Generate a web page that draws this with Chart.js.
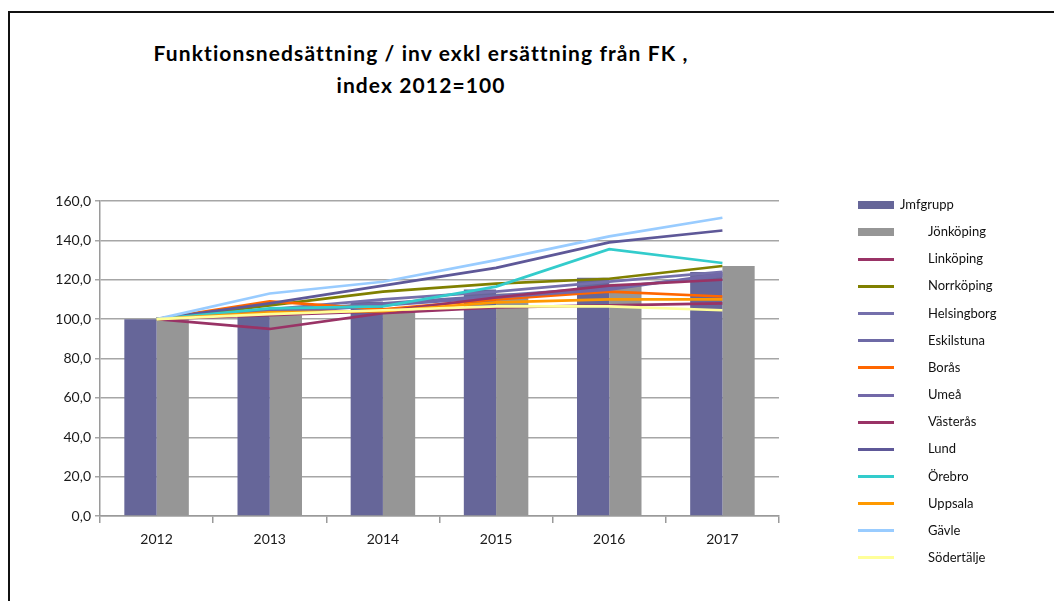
<!DOCTYPE html>
<html>
<head>
<meta charset="utf-8">
<script src="https://cdn.jsdelivr.net/npm/chart.js@4/dist/chart.umd.min.js"></script>
<style>
  body { margin: 0; background: #fff; }
  #wrap { position: relative; width: 1054px; height: 601px; overflow: hidden; font-family: Lato, "Open Sans", sans-serif; }
  #frame { position: absolute; left: 8px; top: 11px; width: 1100px; height: 700px; border: 2px solid #111; box-sizing: border-box; }
  #title { position: absolute; left: 121px; top: 37px; width: 600px; text-align: center; font-weight: bold; font-size: 21px; letter-spacing: 1.1px; line-height: 32px; color: #000; }
  #legend { position: absolute; left: 0; top: 0; }
  .item { position: absolute; font-size: 13px; color: #111; }
  .sw { position: absolute; }
  canvas { position: absolute; left: 0; top: 0; }
</style>
</head>
<body>
<div id="wrap">
  <div id="frame"></div>
  <div id="title">Funktionsnedsättning / inv exkl ersättning från FK ,<br>index 2012=100</div>
  <canvas id="chart" width="1054" height="601"></canvas>
  <div id="legend"></div>
</div>
<script>
// kategorier
const years = ['2012', '2013', '2014', '2015', '2016', '2017'];

// staplar
const jmfgrupp  = [100, 102, 109, 115, 121, 124];
const jonkoping = [100, 102, 104, 113, 118, 127];

// linjer
const linkoping   = [100, 95, 103, 106, 107, 108];
const norrkoping  = [100, 107, 114, 118, 120.5, 127];
const helsingborg = [100, 105, 110, 114, 119, 124];
const eskilstuna  = [100, 104, 108, 112, 116, 122];
const boras       = [100, 109, 105, 110, 114, 111.5];
const umea        = [100, 103, 107, 111, 115, 123];
const vasteras    = [100, 102, 104, 111, 117, 120];
const lund        = [100, 108, 117, 126, 139, 145];
const orebro      = [100, 105.5, 106.5, 116.5, 135.5, 128.5];
const uppsala     = [100, 103.5, 104, 108.5, 110, 110];
const gavle       = [100, 113, 119, 130, 142, 151.5];
const sodertalje  = [100, 102.5, 104.5, 106.5, 106.5, 104.5];

const yTicks = [0, 20, 40, 60, 80, 100, 120, 140, 160];

const barSeries = [
  { label: 'Jmfgrupp', data: jmfgrupp, color: '#666699' },
  { label: 'Jönköping', data: jonkoping, color: '#969696' }
];
const lineSeries = [
  { label: 'Linköping', data: linkoping, color: '#993366' },
  { label: 'Norrköping', data: norrkoping, color: '#808000' },
  { label: 'Helsingborg', data: helsingborg, color: '#7570AC' },
  { label: 'Eskilstuna', data: eskilstuna, color: '#6E6AA6' },
  { label: 'Borås', data: boras, color: '#FF6600' },
  { label: 'Umeå', data: umea, color: '#7268A8' },
  { label: 'Västerås', data: vasteras, color: '#993366' },
  { label: 'Lund', data: lund, color: '#5E5898' },
  { label: 'Örebro', data: orebro, color: '#33CCCC' },
  { label: 'Uppsala', data: uppsala, color: '#FF9900' },
  { label: 'Gävle', data: gavle, color: '#99CCFF' },
  { label: 'Södertälje', data: sodertalje, color: '#FFFF99' }
];

const datasets = [];
barSeries.forEach(s => {
  datasets.push({
    type: 'bar', label: s.label, data: s.data,
    backgroundColor: s.color, borderWidth: 0,
    barPercentage: 1, categoryPercentage: 0.57, order: 100
  });
});
lineSeries.forEach((s, i) => {
  datasets.push({
    type: 'line', label: s.label, data: s.data,
    borderColor: s.color, backgroundColor: s.color,
    borderWidth: 2.7, pointRadius: 0, tension: 0, order: 50 - i
  });
});

const tickFont = { family: 'Lato', size: 14 };
new Chart(document.getElementById('chart'), {
  data: { labels: years, datasets: datasets },
  options: {
    responsive: false,
    animation: false,
    layout: { padding: { left: 0, top: 201, right: 275, bottom: 0 } },
    plugins: { legend: { display: false }, tooltip: { enabled: false } },
    scales: {
      x: {
        offset: true,
        grid: { offset: true, drawOnChartArea: false, drawTicks: true, tickLength: 7, color: '#9a9a9a', lineWidth: 1.5 },
        border: { color: '#9a9a9a', width: 1.5 },
        ticks: { font: tickFont, color: '#1a1a1a', padding: 8 },
        afterFit: s => { s.height = 85; }
      },
      y: {
        min: 0, max: 160,
        afterBuildTicks: s => { s.ticks = yTicks.map(v => ({ value: v })); },
        grid: { color: '#a6a6a6', lineWidth: 1.5, tickLength: 5 },
        border: { color: '#9a9a9a', width: 1.5 },
        ticks: { font: tickFont, color: '#1a1a1a', padding: 4, callback: v => v.toFixed(1).replace('.', ',') },
        afterFit: s => { s.width = 100; }
      }
    }
  }
});

// legend som i originalet
const legend = document.getElementById('legend');
const all = barSeries.map(s => ({ ...s, bar: true })).concat(lineSeries);
all.forEach((s, i) => {
  const y = 205 + i * 27.15;
  const sw = document.createElement('div');
  sw.className = 'sw';
  sw.style.left = '858px';
  sw.style.width = '36px';
  sw.style.background = s.color;
  if (s.bar) { sw.style.top = (y - 4) + 'px'; sw.style.height = '8px'; }
  else { sw.style.top = (y - 1.5) + 'px'; sw.style.height = '3px'; }
  legend.appendChild(sw);
  const t = document.createElement('div');
  t.className = 'item';
  t.textContent = s.label;
  t.style.left = (i === 0 ? 900 : 928) + 'px';
  t.style.top = (y - 9) + 'px';
  legend.appendChild(t);
});
</script>
</body>
</html>
